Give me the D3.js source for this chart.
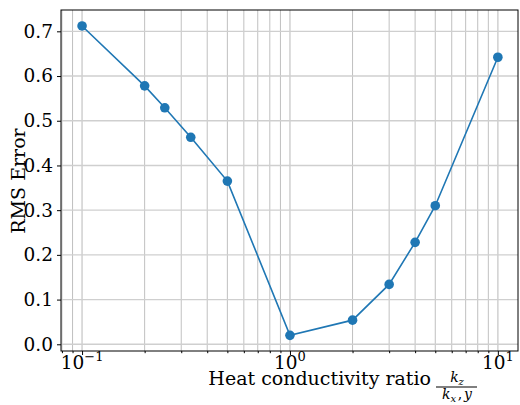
<!DOCTYPE html>
<html>
<head>
<meta charset="utf-8">
<script src="https://cdn.jsdelivr.net/npm/d3@7"></script>
<style>
  body { margin: 0; background: #fff; }
  text { font-family: "DejaVu Serif", serif; fill: #000; }
</style>
</head>
<body>
<div id="chart"></div>
<script>
// values
const ratios = [0.1, 0.2, 0.25, 1 / 3, 0.5, 1, 2, 3, 4, 5, 10];
const rmsError = [0.712, 0.578, 0.529, 0.463, 0.365, 0.020, 0.054, 0.134, 0.228, 0.310, 0.642];
const yTicks = [0.0, 0.1, 0.2, 0.3, 0.4, 0.5, 0.6, 0.7];
const xMajor = [0.1, 1, 10];
const xExp = ["\u22121", "0", "1"];
const xMinor = [0.08, 0.09, 0.2, 0.3, 0.4, 0.5, 0.6, 0.7, 0.8, 0.9, 2, 3, 4, 5, 6, 7, 8, 9];

const W = 520, H = 405;
const m = { left: 61, top: 10, right: 2, bottom: 54 };

const svg = d3.select("#chart").append("svg")
  .attr("width", W).attr("height", H);

const x = d3.scaleLog().domain([0.0792, 12.5]).range([m.left, W - m.right]);
const y = d3.scaleLinear().domain([-0.015, 0.7477]).range([H - m.bottom, m.top]);

const g = svg.append("g");

// grid
g.selectAll(".gmin").data(xMinor).enter().append("line")
  .attr("x1", d => x(d)).attr("x2", d => x(d))
  .attr("y1", m.top).attr("y2", H - m.bottom)
  .attr("stroke", "#b0b0b0").attr("stroke-width", 0.8);
g.selectAll(".gmaj").data(xMajor).enter().append("line")
  .attr("x1", d => x(d)).attr("x2", d => x(d))
  .attr("y1", m.top).attr("y2", H - m.bottom)
  .attr("stroke", "#d3d3d3").attr("stroke-width", 1.6);
g.selectAll(".gy").data(yTicks).enter().append("line")
  .attr("x1", m.left).attr("x2", W - m.right)
  .attr("y1", d => y(d)).attr("y2", d => y(d))
  .attr("stroke", "#cfcfcf").attr("stroke-width", 1.4);

// line + markers
const line = d3.line().x((d, i) => x(ratios[i])).y(d => y(d));
g.append("path").datum(rmsError)
  .attr("d", line).attr("fill", "none")
  .attr("stroke", "#1f77b4").attr("stroke-width", 1.6);
g.selectAll(".pt").data(rmsError).enter().append("circle")
  .attr("cx", (d, i) => x(ratios[i])).attr("cy", d => y(d))
  .attr("r", 4.8).attr("fill", "#1f77b4");

// frame
svg.append("rect")
  .attr("x", m.left).attr("y", m.top)
  .attr("width", W - m.right - m.left).attr("height", H - m.bottom - m.top)
  .attr("fill", "none").attr("stroke", "#000").attr("stroke-width", 1);

// y axis
const yAxis = svg.append("g").attr("transform", `translate(${m.left},0)`)
  .call(d3.axisLeft(y).tickValues(yTicks).tickFormat(d3.format(".1f")).tickSize(4).tickPadding(4));
yAxis.select(".domain").remove();
yAxis.selectAll("text").style("font-size", "18.5px").style("font-family", "DejaVu Serif");

// x axis major / minor
const xAxis = svg.append("g").attr("transform", `translate(0,${H - m.bottom})`)
  .call(d3.axisBottom(x).tickValues(xMajor).tickFormat("").tickSize(4));
xAxis.select(".domain").remove();
const xMin = svg.append("g").attr("transform", `translate(0,${H - m.bottom})`)
  .call(d3.axisBottom(x).tickValues(xMinor).tickFormat("").tickSize(2.2));
xMin.select(".domain").remove();

const xl = svg.append("g").selectAll("text").data(xMajor).enter().append("text")
  .attr("x", d => x(d)).attr("y", H - m.bottom + 18)
  .attr("text-anchor", "middle").style("font-size", "18.5px");
xl.append("tspan").text("10");
xl.append("tspan").attr("dy", -8).style("font-size", "13px").text((d, i) => xExp[i]);

// axis titles
svg.append("text")
  .attr("transform", `translate(25,181) rotate(-90)`)
  .attr("text-anchor", "middle").style("font-size", "19px")
  .text("RMS Error");

svg.append("text")
  .attr("x", 431).attr("y", 385)
  .attr("text-anchor", "end").style("font-size", "19px")
  .text("Heat conductivity ratio");

const frac = svg.append("g").attr("transform", "translate(457,387)");
frac.append("line").attr("x1", -21).attr("x2", 20).attr("y1", 0).attr("y2", 0)
  .attr("stroke", "#000").attr("stroke-width", 1.2);
const num = frac.append("text").attr("x", 0).attr("y", -5).attr("text-anchor", "middle")
  .style("font-size", "14px");
num.append("tspan").style("font-style", "italic").text("k");
num.append("tspan").attr("dy", 2.5).style("font-size", "10px").style("font-style", "italic").text("z");
const den = frac.append("text").attr("x", 0).attr("y", 12).attr("text-anchor", "middle")
  .style("font-size", "14px");
den.append("tspan").style("font-style", "italic").text("k");
den.append("tspan").attr("dy", 2.5).style("font-size", "10px").style("font-style", "italic").text("x");
den.append("tspan").attr("dy", -2.5).attr("dx", 1.5).text(",");
den.append("tspan").attr("dx", 2).style("font-style", "italic").text("y");
</script>
</body>
</html>
